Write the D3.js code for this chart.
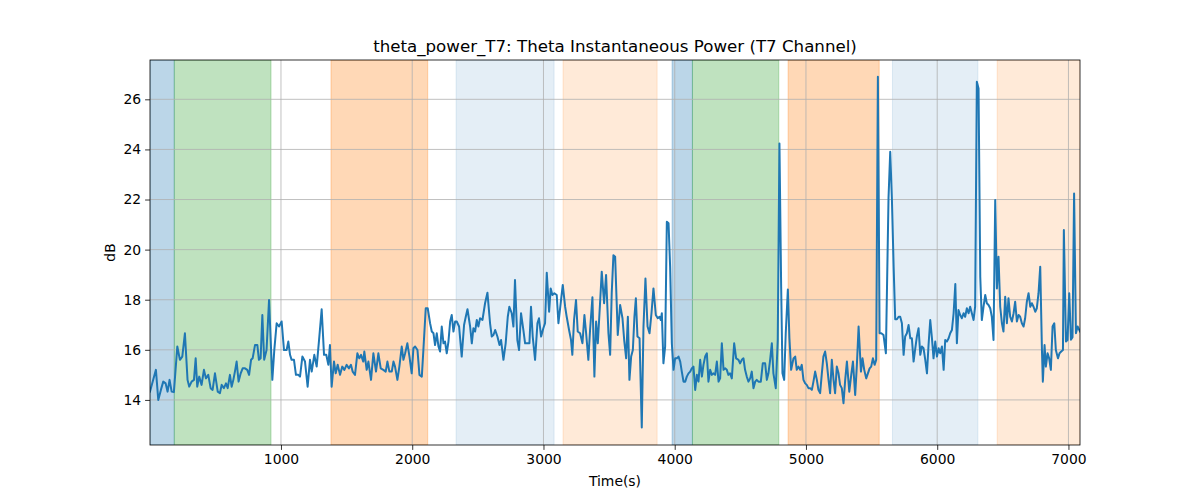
<!DOCTYPE html>
<html>
<head>
<meta charset="utf-8">
<script src="https://cdn.jsdelivr.net/npm/d3@7"></script>
<style>
  html, body { margin: 0; padding: 0; background: #fff; }
  svg { display: block; font-family: "DejaVu Sans", sans-serif; }
</style>
</head>
<body>
<svg id="chart" width="1200" height="500"></svg>
<script>
// ---------------- data ----------------
const chartTitle = "theta_power_T7: Theta Instantaneous Power (T7 Channel)";
const xLabel = "Time(s)";
const yLabel = "dB";

const times = [2,47,65,85,103,121,136,151,167,184,210,230,248,268,288,301,319,337,350,362,377,395,413,428,446,464,479,497,518,535,548,565,581,594,611,624,637,649,662,677,693,708,726,743,757,772,784,802,820,832,845,858,872,890,909,
934,949,967,985,1005,1023,1043,1056,1069,1081,1099,1114,1132,1145,1163,1183,1203,1221,1234,1254,1272,1290,1310,1328,1345,1361,1373,1386,1404,1417,1432,1450,1467,1483,1500,1518,1533,1546,1564,1582,1597,1610,1627,1635,1653,1666,1686,1704,1724,1742,1760,1780,
1798,1811,1826,1844,1857,1869,1887,1902,1920,1933,1946,1963,1979,1996,2009,2022,2040,2055,2073,2085,2103,2118,2136,2149,2162,2174,2187,2200,2212,2225,2238,2250,2263,2276,2289,2301,2314,2327,2339,2357,2377,2395,2408,2421,2441,2454,2466,2479,2492,2504,2517,2535,2555,2573,2593,2606,2619,2632,2649,2665,
2677,2695,2712,2728,2740,2758,2771,2783,2801,2814,2829,2847,2860,2877,2893,2905,2918,2936,2954,2966,2982,2999,3012,3025,3043,3055,3068,3083,3101,3114,3134,3147,3165,3177,3195,3210,3220,3233,3248,3261,3279,3297,3312,3325,3342,3355,3373,3388,3401,3414,3431,3444,3462,3477,3495,3508,3520,3533,3546,
3566,3584,3602,3615,3630,3643,3655,3668,3681,3693,3704,3716,3732,3749,3762,3777,3793,3808,3823,3838,3856,3871,3884,3894,3902,3914,3927,3940,3953,3965,3978,3991,4003,4016,4029,4042,4054,4067,4080,4092,4105,4118,4130,4143,4156,4169,4181,4194,4207,4219,4232,4245,4257,4270,4283,4296,4308,4321,4334,4346,4359,4372,
4384,4397,4409,4422,4435,4453,4468,4486,4498,4511,4524,4536,4549,4562,4575,4587,4600,4613,4625,4638,4656,4671,4689,4702,4714,4727,4740,4752,4770,4785,4798,4811,4821,4834,4846,4862,4874,4887,4905,4918,4930,4943,4956,4968,4981,4994,5006,5019,5032,5045,5057,5070,5083,5095,5108,5121,5133,5146,5159,5172,5184,5197,5210,5222,5235,5248,5260,5273,5286,5299,
5312,5330,5345,5358,5375,5388,5401,5419,5431,5444,5459,5472,5485,5497,5510,5523,5535,5548,5561,5574,5591,5609,5629,5642,5655,5668,5680,5693,5706,5718,5731,5744,5756,5769,5782,5795,5807,5820,5833,5845,5858,5871,5883,5896,5909,5922,5934,5947,5960,5972,5985,5998,6011,6023,6036,6049,6061,6074,6087,6099,6112,6125,6138,6150,
6162,6175,6188,6201,6213,6226,6239,6251,6264,6277,6289,6302,6315,6328,6340,6353,6366,6378,6391,6404,6416,6429,6442,6455,6467,6480,6493,6505,6518,6531,6543,6556,6569,6582,6594,6607,6620,6632,6645,6658,6670,6683,6696,6709,6721,6734,6747,6759,6772,6785,6798,6805,6818,6828,6841,6853,6866,6879,6892,6904,6920,6932,6945,6958,6965,6981,6993,7006,7019,7031,7043,7057,7070,7088];

const values = [14.33,15.20,14.00,14.40,14.73,14.66,14.33,14.80,14.33,14.31,16.13,15.60,15.73,16.66,14.80,14.53,14.73,14.80,15.66,14.53,14.93,14.60,15.20,14.86,15.00,14.47,14.40,15.06,14.33,14.27,14.60,14.47,14.66,14.47,15.00,14.53,14.80,15.13,15.53,14.73,15.06,15.26,15.26,15.20,15.00,15.60,15.66,16.19,16.19,15.60,15.66,17.39,15.60,15.99,17.99,
14.80,15.99,17.06,16.93,17.13,15.99,15.99,16.33,15.80,15.60,15.60,15.00,15.00,14.93,15.73,15.53,14.53,15.60,15.13,15.80,15.33,16.39,17.62,15.80,15.80,15.40,16.19,14.53,15.53,15.06,15.40,15.00,15.33,15.20,15.40,15.26,15.40,15.13,15.00,15.86,15.66,15.80,15.53,15.93,15.20,15.53,14.80,15.86,15.13,15.86,15.26,15.20,
15.13,15.53,15.13,15.13,15.53,15.33,14.80,15.33,16.13,15.60,15.86,16.26,15.73,15.06,16.06,16.13,15.99,15.00,14.93,15.99,17.66,17.66,17.06,16.73,16.66,16.19,16.66,16.13,15.93,16.93,16.26,16.33,15.86,16.33,17.13,17.39,16.73,17.13,17.13,16.93,15.73,16.99,17.32,17.62,16.93,16.26,16.86,16.73,17.19,16.93,17.26,17.19,17.86,18.28,17.06,16.53,16.59,16.79,16.53,16.19,
16.39,15.60,16.26,17.32,17.72,17.46,16.93,18.79,16.39,15.99,17.46,16.79,16.26,16.26,16.26,17.72,16.53,15.60,17.06,17.26,16.53,16.86,17.06,19.08,17.52,18.45,18.19,18.26,18.19,17.06,17.99,18.59,17.72,17.32,16.79,16.39,15.80,17.19,17.99,16.73,16.66,16.26,17.39,16.66,15.60,16.79,18.10,14.93,17.13,16.26,17.86,19.12,17.86,18.99,16.66,15.80,18.26,19.78,19.72,
16.59,17.79,17.26,16.39,15.66,17.32,14.80,15.73,15.99,17.32,18.06,16.53,16.46,12.90,16.93,18.85,16.93,16.66,17.46,18.45,17.39,17.26,17.32,17.19,17.46,15.46,16.13,21.11,21.05,19.32,16.26,15.20,15.66,15.66,15.73,15.53,15.13,14.73,14.73,14.93,15.06,15.13,15.26,15.33,14.40,15.00,14.73,15.60,14.93,15.40,15.73,15.86,14.73,15.20,15.00,15.06,15.00,15.53,14.73,14.86,16.26,15.20,
15.26,15.20,15.00,15.06,14.86,16.26,15.66,15.60,15.46,15.60,15.66,15.20,14.93,14.73,14.86,15.13,14.47,14.73,14.80,14.73,14.73,15.46,15.46,14.80,15.06,15.60,16.26,15.06,14.47,16.39,24.24,18.52,15.06,14.80,16.66,18.41,16.46,15.20,15.66,15.73,15.20,15.33,15.20,15.40,14.80,14.66,14.60,14.47,14.47,14.40,14.73,15.13,14.80,14.40,14.27,15.06,15.73,15.93,15.46,14.80,14.27,15.60,14.80,14.27,15.33,15.06,14.60,14.47,13.87,14.80,
15.53,14.33,15.00,15.53,14.20,15.40,16.93,15.13,15.66,15.20,14.86,15.06,15.26,15.33,15.66,15.40,15.60,26.90,16.66,16.66,16.59,15.86,22.05,23.91,21.98,19.32,17.22,17.22,17.32,17.32,17.06,15.80,16.53,16.66,16.99,16.46,16.46,15.53,16.06,16.53,16.86,15.80,16.13,16.06,15.60,15.06,16.19,17.19,16.46,15.66,16.33,15.73,16.06,15.86,16.13,15.20,16.39,16.33,16.46,16.66,16.79,17.46,18.63,16.26,
17.59,17.39,17.26,17.46,17.32,17.66,17.46,17.72,17.46,17.19,17.72,26.70,26.43,18.92,17.19,17.72,18.19,17.86,17.79,17.66,17.32,16.39,21.98,18.45,19.72,17.72,17.06,16.73,18.12,17.06,18.06,17.32,17.13,17.46,17.92,17.13,17.39,17.32,17.06,16.93,17.26,17.92,18.26,17.72,17.86,17.72,17.52,17.66,18.26,19.32,15.99,14.73,16.19,15.33,15.86,15.66,15.20,16.93,17.06,15.99,15.66,15.86,15.93,15.99,20.78,16.33,16.39,18.26,16.40,16.50,22.24,16.66,16.93,16.73];

// shaded phases: start, end, colour, opacity
const spanStarts  = [2, 187, 1381, 2334, 3149, 3980, 4135, 4864, 5659, 6457];
const spanEnds    = [187, 924, 2118, 3081, 3866, 4135, 4793, 5558, 6310, 7088];
const spanColors  = ["#1f77b4","#2ca02c","#ff7f0e","#1f77b4","#ff7f0e","#1f77b4","#2ca02c","#ff7f0e","#1f77b4","#ff7f0e"];
const spanOpacity = [0.3, 0.3, 0.3, 0.12, 0.16, 0.3, 0.3, 0.3, 0.12, 0.16];

const xTicks = [1000, 2000, 3000, 4000, 5000, 6000, 7000];
const yTicks = [14, 16, 18, 20, 22, 24, 26];
const xDomain = [2, 7088];
const yDomain = [12.2, 27.57];

// ---------------- layout ----------------
const W = 1200, H = 500;
const m = { left: 150, right: 120, top: 60, bottom: 55 };
const iw = W - m.left - m.right, ih = H - m.top - m.bottom;

const svg = d3.select("#chart");
const g = svg.append("g").attr("transform", `translate(${m.left},${m.top})`);

const x = d3.scaleLinear().domain(xDomain).range([0, iw]);
const y = d3.scaleLinear().domain(yDomain).range([ih, 0]);

g.append("clipPath").attr("id", "clip")
  .append("rect").attr("width", iw).attr("height", ih);

const plot = g.append("g").attr("clip-path", "url(#clip)");

// spans
const spans = spanStarts.map((s, i) => ({ s, e: spanEnds[i], c: spanColors[i], o: spanOpacity[i] }));
plot.selectAll("rect.span").data(spans).join("rect")
  .attr("class", "span")
  .attr("x", d => x(d.s)).attr("width", d => x(d.e) - x(d.s))
  .attr("y", 0).attr("height", ih)
  .attr("fill", d => d.c).attr("fill-opacity", d => d.o)
  .attr("stroke", d => d.c).attr("stroke-opacity", d => d.o).attr("stroke-width", 1);

// grid (above spans, like matplotlib)
plot.selectAll("line.gx").data(xTicks).join("line")
  .attr("class", "gx")
  .attr("x1", d => x(d)).attr("x2", d => x(d))
  .attr("y1", 0).attr("y2", ih)
  .attr("stroke", "#b0b0b0").attr("stroke-width", 0.8);
plot.selectAll("line.gy").data(yTicks).join("line")
  .attr("class", "gy")
  .attr("y1", d => y(d)).attr("y2", d => y(d))
  .attr("x1", 0).attr("x2", iw)
  .attr("stroke", "#b0b0b0").attr("stroke-width", 0.8);

// line
const pts = times.map((t, i) => [t, values[i]]);
plot.append("path").datum(pts)
  .attr("fill", "none").attr("stroke", "#1f77b4").attr("stroke-width", 2)
  .attr("stroke-linejoin", "round").attr("stroke-linecap", "square")
  .attr("d", d3.line().x(d => x(d[0])).y(d => y(d[1])));

// axes
const xAxis = g.append("g").attr("transform", `translate(0,${ih})`)
  .call(d3.axisBottom(x).tickValues(xTicks).tickFormat(d3.format("d")).tickSize(4.9).tickPadding(4));
const yAxis = g.append("g")
  .call(d3.axisLeft(y).tickValues(yTicks).tickFormat(d3.format("d")).tickSize(4.9).tickPadding(4));
[xAxis, yAxis].forEach(a => {
  a.select(".domain").remove();
  a.selectAll("line").attr("stroke", "#000").attr("stroke-width", 0.8);
  a.selectAll("text").attr("font-family", "DejaVu Sans, sans-serif").attr("font-size", 13.9).attr("fill", "#000");
});

// frame
g.append("rect").attr("width", iw).attr("height", ih)
  .attr("fill", "none").attr("stroke", "#000").attr("stroke-width", 0.8);

// labels
svg.append("text").attr("x", m.left + iw / 2).attr("y", 52)
  .attr("text-anchor", "middle").attr("font-size", 16.67).attr("fill", "#000")
  .text(chartTitle);
svg.append("text").attr("x", m.left + iw / 2).attr("y", 486)
  .attr("text-anchor", "middle").attr("font-size", 13.9).attr("fill", "#000")
  .text(xLabel);
svg.append("text").attr("transform", `translate(115,${m.top + ih / 2}) rotate(-90)`)
  .attr("text-anchor", "middle").attr("font-size", 13.9).attr("fill", "#000")
  .text(yLabel);
</script>
</body>
</html>
